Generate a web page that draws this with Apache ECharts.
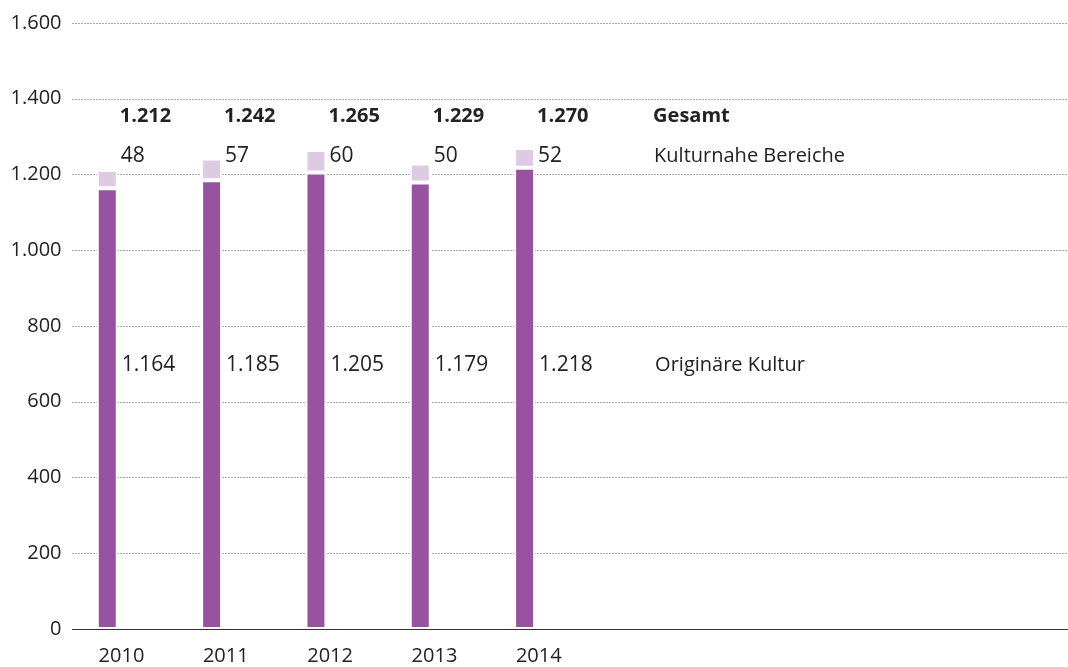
<!DOCTYPE html>
<html>
<head>
<meta charset="utf-8">
<script src="https://cdn.jsdelivr.net/npm/echarts@6/dist/echarts.min.js"></script>
<style>
  html, body { margin: 0; padding: 0; background: #fff; }
  #chart { width: 1068px; height: 667px; }
</style>
</head>
<body>
<div id="chart"></div>
<script>
// ---- data ----
const years = ['2010', '2011', '2012', '2013', '2014'];
const originaereKultur = [1164, 1185, 1205, 1179, 1218];
const kulturnaheBereiche = [48, 57, 60, 50, 52];
const gesamt = [1212, 1242, 1265, 1229, 1270];
const yTicks = [0, 200, 400, 600, 800, 1000, 1200, 1400, 1600];
const seriesNames = ['Originäre Kultur', 'Kulturnahe Bereiche', 'Gesamt'];

// ---- layout helpers (not data) ----
const SLOT = 12;          // x units per year
const FIRST = 4;          // x unit of first bar
const xAt = i => FIRST + SLOT * i;
const FONT = '"Open Sans", sans-serif';
const FS = 20;
const FS_VAL = 21;
const TXT = '#222';
const BAR_W = 21;         // includes 1px white border each side -> 19px visible

function de(n) {
  return String(n).replace(/\B(?=(\d{3})+(?!\d))/g, '.');
}
// value first, x position second (so the value dimension is the stacked one)
const pts = arr => arr.map((v, i) => [v, xAt(i)]);

const last = years.length - 1;
function rowLabel(valueArr, nameIdx) {
  return function (p) {
    const i = p.dataIndex;
    const v = de(valueArr[i]);
    if (i === last) return '{v|' + v + '}{n|' + seriesNames[nameIdx] + '}';
    return '{v|' + v + '}';
  };
}
function rich(bold) {
  const w = bold ? 'bold' : 'normal';
  return {
    v: { width: 116, fontFamily: FONT, fontSize: bold ? FS : FS_VAL, color: TXT, fontWeight: w },
    n: { fontFamily: FONT, fontSize: FS, color: TXT, fontWeight: w }
  };
}
const enc = { x: 1, y: 0 };

const chart = echarts.init(document.getElementById('chart'));
chart.setOption({
  animation: false,
  grid: { left: 72.5, right: 0, top: 23, bottom: 38 },
  xAxis: {
    type: 'value',
    z: 10,
    min: 0,
    max: 114.5,
    interval: 1,
    axisLine: { show: true, lineStyle: { color: '#333', width: 1 } },
    axisTick: { show: false },
    splitLine: { show: false },
    axisLabel: {
      align: 'left',
      margin: 17,
      fontFamily: FONT,
      fontSize: FS,
      color: TXT,
      showMinLabel: false,
      showMaxLabel: false,
      formatter: function (v) {
        for (let i = 0; i < years.length; i++) {
          if (Math.abs(v - (xAt(i) - 1)) < 1e-6) return years[i];
        }
        return '';
      }
    }
  },
  yAxis: {
    type: 'value',
    min: yTicks[0],
    max: yTicks[yTicks.length - 1],
    interval: yTicks[1] - yTicks[0],
    axisLine: { show: false },
    axisTick: { show: false },
    axisLabel: {
      margin: 11,
      fontFamily: FONT,
      fontSize: FS,
      color: TXT,
      formatter: v => de(v)
    },
    splitLine: { show: true, lineStyle: { color: '#555', width: 1, type: [1, 2] } }
  },
  series: [
    {
      name: seriesNames[0],
      type: 'bar',
      stack: 'kultur',
      encode: enc,
      barWidth: BAR_W,
      barGap: '-100%',
      itemStyle: { color: '#9752A0', borderColor: '#fff', borderWidth: 2 },
      data: pts(originaereKultur),
      label: {
        show: true,
        position: 'insideBottomLeft',
        distance: 0,
        verticalAlign: 'middle',
        offset: [25, -264],
        formatter: rowLabel(originaereKultur, 0),
        rich: rich(false)
      },
      z: 3
    },
    {
      name: seriesNames[1],
      type: 'bar',
      stack: 'kultur',
      encode: enc,
      barWidth: BAR_W,
      barGap: '-100%',
      itemStyle: { color: '#DDCBE3', borderColor: '#fff', borderWidth: 2 },
      data: pts(kulturnaheBereiche),
      z: 4
    },
    {
      name: seriesNames[1] + ' (Werte)',
      type: 'bar',
      encode: enc,
      barWidth: BAR_W,
      barGap: '-100%',
      silent: true,
      itemStyle: { color: 'rgba(0,0,0,0)' },
      data: pts(kulturnaheBereiche),
      label: {
        show: true,
        position: 'insideBottomLeft',
        distance: 0,
        verticalAlign: 'middle',
        offset: [24, -473],
        formatter: rowLabel(kulturnaheBereiche, 1),
        rich: rich(false)
      },
      z: 1
    },
    {
      name: seriesNames[2],
      type: 'bar',
      encode: enc,
      barWidth: BAR_W,
      barGap: '-100%',
      silent: true,
      itemStyle: { color: 'rgba(0,0,0,0)' },
      data: pts(gesamt),
      label: {
        show: true,
        position: 'insideBottomLeft',
        distance: 0,
        verticalAlign: 'middle',
        offset: [23, -513],
        formatter: rowLabel(gesamt, 2),
        rich: rich(true)
      },
      z: 0
    }
  ]
});
</script>
</body>
</html>
